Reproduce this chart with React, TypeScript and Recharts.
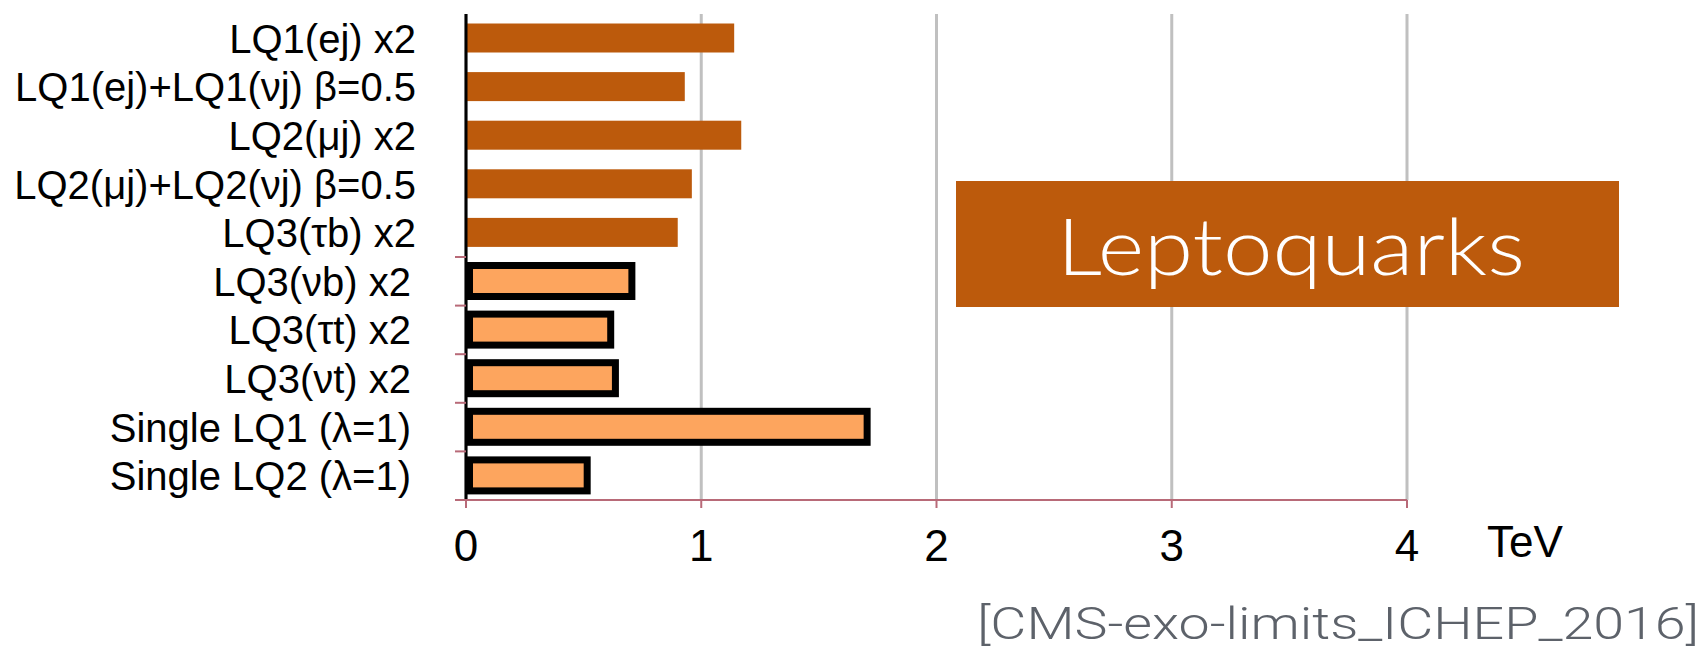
import React from 'react';
import { BarChart, Bar, XAxis, YAxis, CartesianGrid, ReferenceLine } from 'recharts';

// pair-produced channels (solid bars) and the other searches (boxed bars), mass limits in TeV
const pairChannels = ['LQ1(ej) x2', 'LQ1(ej)+LQ1(νj) β=0.5', 'LQ2(μj) x2', 'LQ2(μj)+LQ2(νj) β=0.5', 'LQ3(τb) x2'];
const pairLimits = [1.14, 0.93, 1.17, 0.96, 0.9];

const boxedChannels = ['LQ3(νb) x2', 'LQ3(τt) x2', 'LQ3(νt) x2', 'Single LQ1 (λ=1)', 'Single LQ2 (λ=1)'];
const boxedLimits = [0.72, 0.63, 0.65, 1.72, 0.53];

const tevTicks = [0, 1, 2, 3, 4];

const W = 1708;
const H = 651;
const AXIS_X = 466;
const TOP = 14;
const PLOT_BOTTOM = 500;
const BAND = (PLOT_BOTTOM - TOP) / (pairChannels.length + boxedChannels.length);

const DARK = '#bc5a0c';
const LIGHT = '#fda55e';
const AXIS_RED = '#b86a78';
const FONT = '"Liberation Sans", Arial, Helvetica, sans-serif';

const chartData = [
  ...pairChannels.map((name, i) => ({ name, solid: pairLimits[i] })),
  ...boxedChannels.map((name, i) => ({ name, boxed: boxedLimits[i] })),
];

const SolidBar = (props: any) => {
  const { x, y, width, height } = props;
  if (!width || width <= 0) return null;
  const h = 29;
  return <rect x={x} y={y + (height - h) / 2} width={width} height={h} fill={DARK} />;
};

const BoxedBar = (props: any) => {
  const { x, y, width, height } = props;
  if (!width || width <= 0) return null;
  const h = 38;
  const b = 7;
  const top = y + (height - h) / 2;
  return (
    <g>
      <rect x={x} y={top} width={width} height={h} fill="#000" />
      <rect x={x + b} y={top + b} width={Math.max(width - 2 * b, 0)} height={h - 2 * b} fill={LIGHT} />
    </g>
  );
};

const ChannelTick = (props: any) => {
  const { y, payload, index } = props;
  const lower = index >= pairChannels.length;
  return (
    <g>
      <text
        x={lower ? 411 : 416}
        y={y}
        dy="0.36em"
        textAnchor="end"
        fontSize={40}
        fontFamily={FONT}
        fill="#000"
      >
        {payload.value}
      </text>
      {lower && (
        <line x1={AXIS_X - 11} x2={AXIS_X} y1={y - BAND / 2} y2={y - BAND / 2} stroke={AXIS_RED} strokeWidth={2} />
      )}
      {index === pairChannels.length + boxedChannels.length - 1 && (
        <line x1={AXIS_X - 11} x2={AXIS_X} y1={y + BAND / 2} y2={y + BAND / 2} stroke={AXIS_RED} strokeWidth={2} />
      )}
    </g>
  );
};

export default function App() {
  return (
    <div style={{ position: 'absolute', left: 0, top: 0, width: W, height: H, background: '#fff' }}>
      <BarChart
        width={W}
        height={H}
        data={chartData}
        layout="vertical"
        margin={{ top: TOP, right: 301, left: 0, bottom: H - PLOT_BOTTOM - 60 }}
        barSize={38}
      >
        <CartesianGrid horizontal={false} stroke="#c0c0c0" strokeWidth={3} />
        <XAxis
          type="number"
          domain={[0, 4]}
          ticks={tevTicks}
          height={60}
          axisLine={{ stroke: AXIS_RED, strokeWidth: 2 }}
          tickLine={{ stroke: AXIS_RED, strokeWidth: 2 }}
          tickSize={8}
          tickMargin={22}
          tick={{ fontSize: 44, fill: '#000', fontFamily: FONT }}
        />
        <YAxis
          type="category"
          dataKey="name"
          width={AXIS_X}
          axisLine={false}
          tickLine={false}
          interval={0}
          tick={<ChannelTick />}
        />
        <Bar dataKey="solid" stackId="lq" shape={<SolidBar />} isAnimationActive={false} />
        <Bar dataKey="boxed" stackId="lq" shape={<BoxedBar />} isAnimationActive={false} />
        <ReferenceLine x={0} stroke="#000" strokeWidth={3} />
      </BarChart>

      {/* annotations on top of the chart */}
      <svg width={W} height={H} style={{ position: 'absolute', left: 0, top: 0, pointerEvents: 'none' }}>
        <rect x={956} y={181} width={663} height={126} fill={DARK} />
        <text
          x={1057}
          y={275}
          fontSize={78}
          fontWeight={300}
          fontFamily="Lato, 'DejaVu Sans', sans-serif"
          fill="#fff"
          textLength={468}
          lengthAdjust="spacingAndGlyphs"
        >
          Leptoquarks
        </text>
        <text x={1487} y={557} fontSize={44} fontFamily={FONT} fill="#000" textLength={76} lengthAdjust="spacingAndGlyphs">
          TeV
        </text>
        <text
          x={977}
          y={639}
          fontSize={44}
          fontWeight={300}
          fontFamily="Roboto, 'Liberation Sans', sans-serif"
          fill="#5d626a"
          textLength={722}
          lengthAdjust="spacingAndGlyphs"
        >
          [CMS-exo-limits_ICHEP_2016]
        </text>
      </svg>
    </div>
  );
}
